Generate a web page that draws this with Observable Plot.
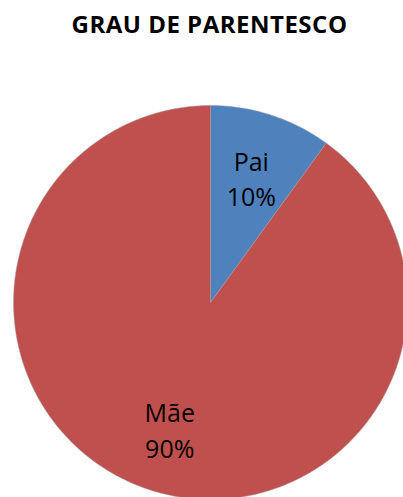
<!DOCTYPE html>
<html>
<head>
<meta charset="utf-8">
<script src="https://cdn.jsdelivr.net/npm/d3@7"></script>
<script src="https://cdn.jsdelivr.net/npm/@observablehq/plot@0.6"></script>
<style>
  html, body { margin: 0; padding: 0; background: #fff; overflow: hidden; }
  #wrap { width: 403px; height: 497px; position: relative; }
  #title { box-sizing: border-box; width: 403px; padding-left: 16px; height: 60px; line-height: 48px; text-align: center; font-family: "Open Sans", sans-serif; font-weight: 700; font-size: 24px; letter-spacing: 0.5px; color: #000; white-space: nowrap; }
  svg { display: block; }
</style>
</head>
<body>
<div id="wrap">
  <div id="title">GRAU DE PARENTESCO</div>
  <div id="chart"></div>
</div>
<script>
const categories = ["Pai", "Mãe"];
const values = [10, 90];
const colors = ["#4F81BD", "#C0504D"];
const title = "GRAU DE PARENTESCO";

document.getElementById("title").textContent = title;

const W = 403, H = 437;
const R = 197;         // pie radius, px
const cx = 210, cy = 242; // pie centre within the SVG, px

const total = d3.sum(values);
const arcs = d3.pie().sort(null).startAngle(0).endAngle(2 * Math.PI)(values);

// polygon outlines of each slice in unit coordinates (y up, angle clockwise from top)
const slicePts = [];
arcs.forEach((a, i) => {
  const n = Math.max(2, Math.ceil((a.endAngle - a.startAngle) / (Math.PI / 180)));
  slicePts.push({cat: categories[i], x: 0, y: 0});
  for (let k = 0; k <= n; k++) {
    const t = a.startAngle + (a.endAngle - a.startAngle) * k / n;
    slicePts.push({cat: categories[i], x: Math.sin(t), y: Math.cos(t)});
  }
  slicePts.push({cat: categories[i], x: 0, y: 0});
});

const labels = arcs.map((a, i) => {
  const m = (a.startAngle + a.endAngle) / 2;
  const r = 0.67;
  return {
    x: r * Math.sin(m),
    y: r * Math.cos(m),
    text: categories[i] + "\n" + Math.round(values[i] / total * 100) + "%"
  };
});

const chart = Plot.plot({
  width: W,
  height: H,
  margin: 0,
  x: {domain: [-cx / R, (W - cx) / R], range: [0, W], axis: null},
  y: {domain: [-(H - cy) / R, cy / R], range: [H, 0], axis: null},
  color: {domain: categories, range: colors},
  style: {background: "transparent", overflow: "hidden"},
  marks: [
    Plot.line(slicePts, {x: "x", y: "y", z: "cat", fill: "cat", stroke: "#9aa0a8", strokeWidth: 0.5, curve: "linear"}),
    Plot.text(labels, {x: "x", y: "y", text: "text", fontSize: 25, lineHeight: 1.44, fill: "#000", fontFamily: "Open Sans, sans-serif"})
  ]
});
document.getElementById("chart").appendChild(chart);
</script>
</body>
</html>
